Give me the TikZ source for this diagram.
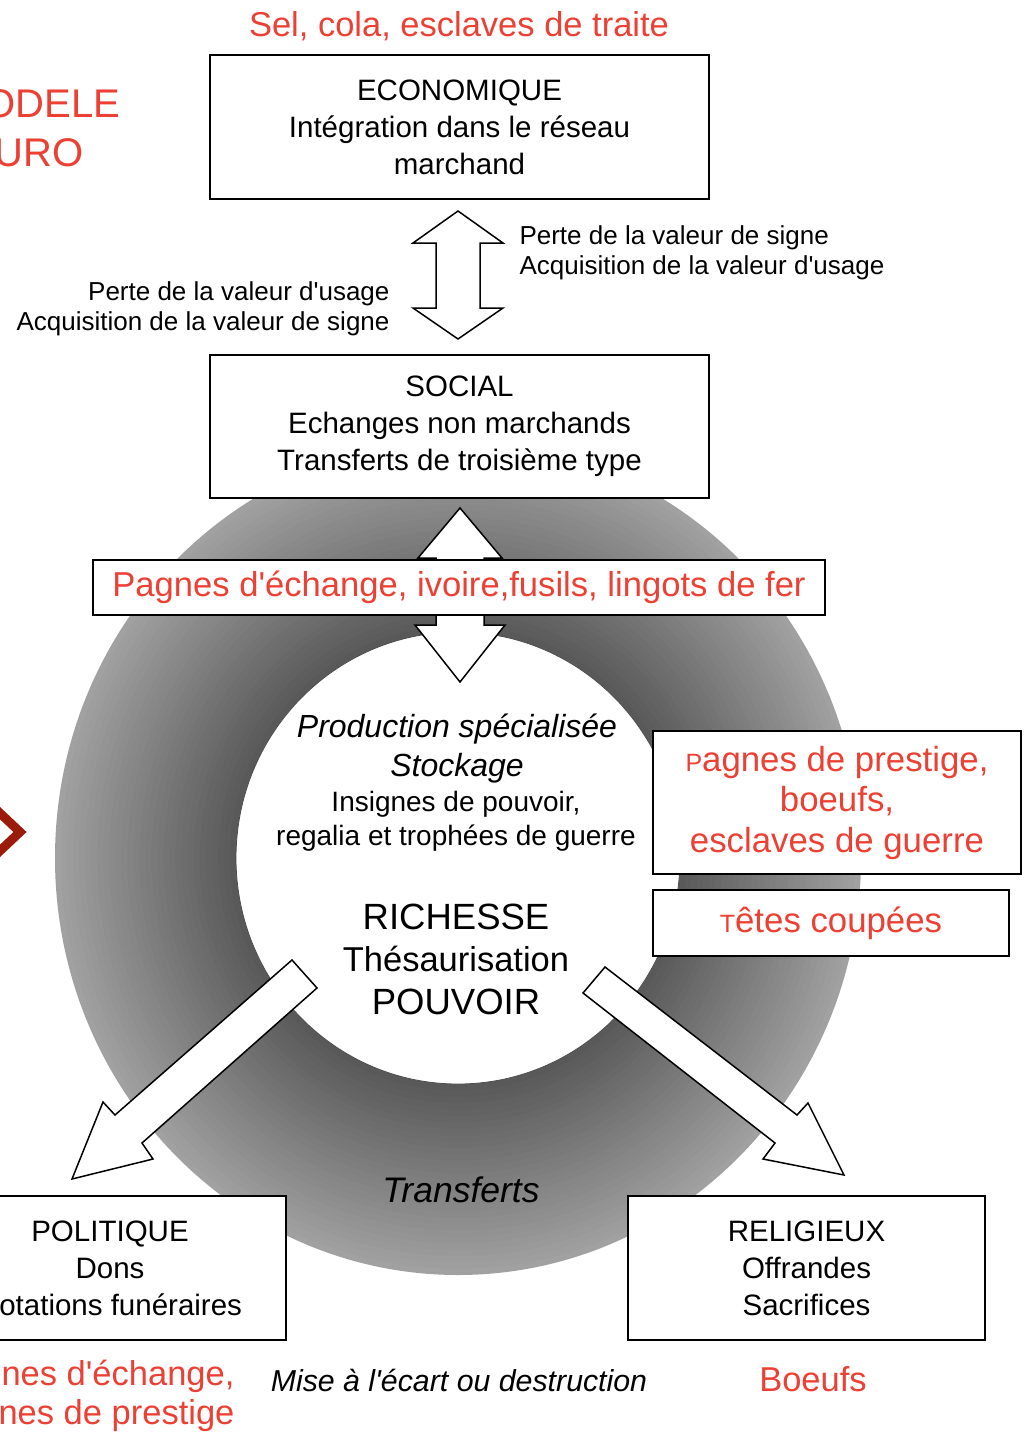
\documentclass[tikz,border=0pt]{standalone}
\usepackage{fontspec}
\setmainfont{Liberation Sans}[Ligatures=TeXOff]
\usetikzlibrary{positioning}

\definecolor{slidered}{RGB}{236,64,52}
\definecolor{chevred}{RGB}{155,26,10}

\newcommand{\fs}[2]{\fontsize{#1}{#2}\selectfont}
\newcommand{\lowcap}[1]{{\fontsize{25}{25}\selectfont #1}}

\begin{document}
\begin{tikzpicture}[x=1pt, y=-1pt,
  sector/.style={draw=black, line width=1.8pt, fill=white, inner sep=0pt,
                 align=center, font=\fs{29.5}{37}},
  tagbox/.style={draw=black, line width=1.8pt, fill=white, inner sep=0pt,
                 align=center, text=slidered, font=\fs{34.8}{40.5}},
  blockarrow/.style={draw=black, line width=1.5pt, fill=white, line join=miter},
  redlabel/.style={text=slidered, font=\fs{34.5}{39}},
  note/.style={font=\fs{26}{30}}
]
\useasboundingbox (0,0) rectangle (1032,1433);
\clip (0,0) rectangle (1032,1433);

% shaded ring round the centre
\foreach \i in {0,...,29}{
  \pgfmathsetmacro{\rx}{403-181*\i/30}
  \pgfmathsetmacro{\ry}{417-191*\i/30}
  \pgfmathsetmacro{\tone}{37+28*\i/29}
  \fill[black!\tone] (458,858) ellipse [x radius=\rx pt, y radius=\ry pt];
}
\filldraw[fill=white, draw=black!70, line width=0.8pt] (458,858) ellipse [x radius=222pt, y radius=226pt];

% block arrows
\draw[blockarrow] (458,211) -- (503,243) -- (480,243) -- (480,308) -- (503,308) -- (458,339)
  -- (413,308) -- (436,308) -- (436,243) -- (413,243) -- cycle;
\draw[blockarrow] (460,508) -- (502,558) -- (484,558) -- (484,625) -- (505,625) -- (460,682)
  -- (415,625) -- (436,625) -- (436,558) -- (418,558) -- cycle;
\draw[blockarrow] (292,960) -- (115,1115) -- (103,1102) -- (72,1179) -- (153,1159)
  -- (142,1143) -- (317,988) -- cycle;
\draw[blockarrow] (605,967) -- (797,1115) -- (808,1103) -- (844,1175) -- (763,1159)
  -- (775,1143) -- (583,993) -- cycle;

% top
\node[redlabel] (traite) at (459,26) {Sel, cola, esclaves de traite};
\node[text=slidered, font=\fs{40}{48}, anchor=east] (modele) at (124,104) {MODELE};
\node[text=slidered, font=\fs{40}{48}, anchor=east] (uro) at (87,153) {URO};
\node[sector, minimum width=499, minimum height=144] (eco) at (459.5,127)
  {ECONOMIQUE\\Intégration dans le réseau\\marchand};
\node[note, anchor=west, align=left] (signe) at (516,253)
  {Perte de la valeur de signe\\Acquisition de la valeur d'usage};
\node[note, anchor=east, align=right] (usage) at (393,309)
  {Perte de la valeur d'usage\\Acquisition de la valeur de signe};
\node[sector, minimum width=499, minimum height=143] (social) at (459.5,426.5)
  {SOCIAL\\Echanges non marchands\\Transferts de troisième type};
\node[tagbox, minimum width=732, minimum height=55, font=\fs{34.6}{40}] (echange) at (459,587.5)
  {Pagnes d'échange, ivoire,fusils, lingots de fer};

% chevron at the left edge
\draw[chevred, line width=9pt, line join=miter] (-14,800) -- (20,832) -- (-14,864);

% centre
\node[align=center, font=\fs{32}{39}\itshape] (production) at (457,748.5)
  {Production spécialisée\\Stockage};
\node[align=center, font=\fs{28}{34}] (insignes) at (456,821)
  {Insignes de pouvoir,\\regalia et trophées de guerre};
\node[align=center, font=\fs{34.5}{42.5}] (richesse) at (456,959)
  {{\fs{36.5}{42.5}RICHESSE}\\Thésaurisation\\{\fs{36.5}{42.5}POUVOIR}};

% right
\node[tagbox, minimum width=368, minimum height=143] (prestige) at (837,802.5)
  {\lowcap{P}agnes de prestige,\\boeufs,\\esclaves de guerre};
\node[tagbox, minimum width=356, minimum height=66] (tetes) at (831,923)
  {\lowcap{T}êtes coupées};

% bottom
\node[font=\fs{35.5}{40}\itshape] (transferts) at (461,1190) {Transferts};
\node[sector, minimum width=352, minimum height=144] (politique) at (110,1268)
  {POLITIQUE\\Dons\\Dotations funéraires};
\node[sector, minimum width=357, minimum height=144] (religieux) at (806.5,1268)
  {RELIGIEUX\\Offrandes\\Sacrifices};
\node[redlabel, anchor=east, align=right] (pagnes) at (238,1396)
  {Pagnes d'échange,\\Pagnes de prestige};
\node[font=\fs{30.3}{36}\itshape] (mise) at (459,1380) {Mise à l'écart ou destruction};
\node[redlabel] (boeufs) at (813,1379) {Boeufs};

\end{tikzpicture}
\end{document}
